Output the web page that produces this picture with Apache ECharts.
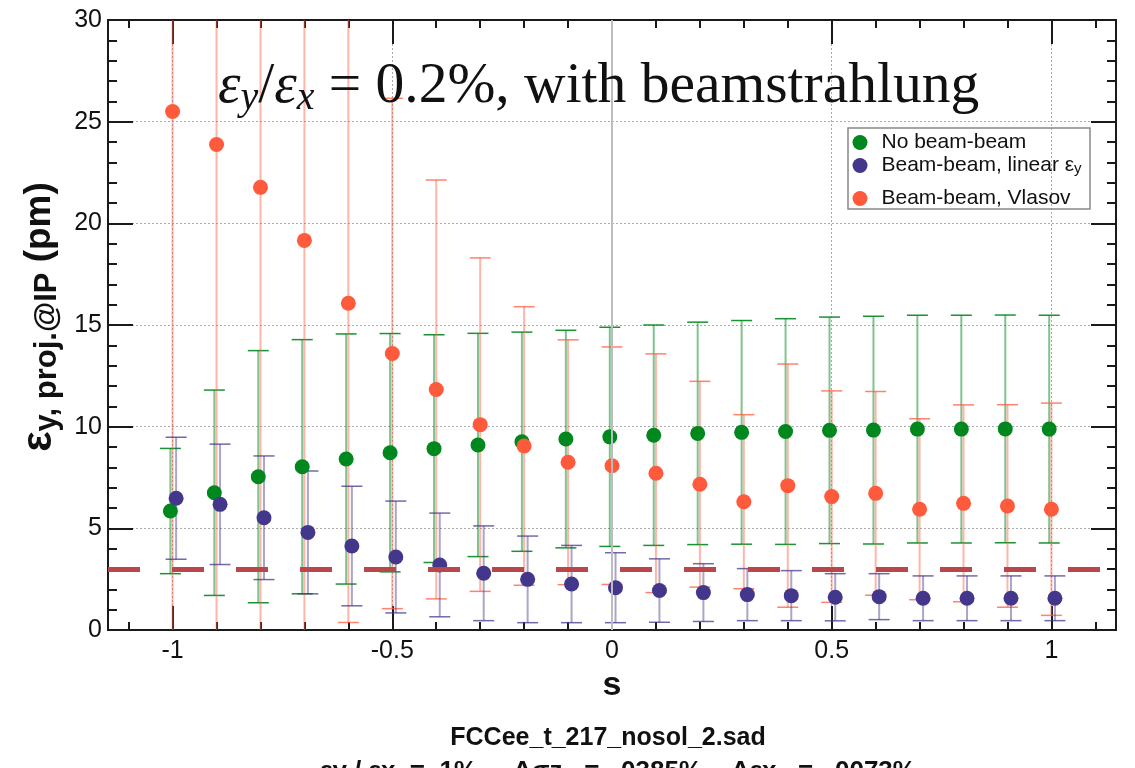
<!DOCTYPE html>
<html>
<head>
<meta charset="utf-8">
<title>emittance vs s</title>
<script src="https://cdn.jsdelivr.net/npm/echarts@6/dist/echarts.min.js"></script>
<style>
html, body { margin: 0; padding: 0; background: #fff; }
#main { width: 1135px; height: 768px; }
</style>
</head>
<body>
<div id="main"></div>
<script>
// s values (x) and the three emittance sets
var sValues = [-1, -0.9, -0.8, -0.7, -0.6, -0.5, -0.4, -0.3, -0.2, -0.1, 0, 0.1, 0.2, 0.3, 0.4, 0.5, 0.6, 0.7, 0.8, 0.9, 1];

var noBB    = [5.85, 6.75, 7.54, 8.03, 8.41, 8.72, 8.92, 9.1, 9.26, 9.39, 9.5, 9.58, 9.67, 9.72, 9.76, 9.82, 9.83, 9.88, 9.88, 9.89, 9.88];
var noBBErr = [3.08, 5.05, 6.2, 6.25, 6.15, 5.86, 5.6, 5.49, 5.39, 5.35, 5.39, 5.42, 5.47, 5.5, 5.55, 5.57, 5.6, 5.6, 5.6, 5.6, 5.6];

var linBB    = [6.48, 6.18, 5.52, 4.8, 4.13, 3.59, 3.2, 2.79, 2.49, 2.26, 2.08, 1.94, 1.84, 1.74, 1.69, 1.61, 1.64, 1.56, 1.56, 1.56, 1.56];
var linBBErr = [3.0, 2.96, 3.04, 3.02, 2.94, 2.75, 2.55, 2.33, 2.13, 1.9, 1.72, 1.56, 1.42, 1.28, 1.23, 1.16, 1.13, 1.1, 1.1, 1.1, 1.1];

var vlasov    = [25.5, 23.88, 21.77, 19.16, 16.07, 13.6, 11.83, 10.1, 9.05, 8.25, 8.08, 7.71, 7.17, 6.31, 7.1, 6.56, 6.72, 5.94, 6.23, 6.1, 5.94];
var vlasovErr = [26.5, 24.5, 22.5, 19.8, 15.7, 12.55, 10.3, 8.2, 6.85, 6.02, 5.84, 5.87, 5.06, 4.28, 5.98, 5.2, 5.01, 4.45, 4.84, 4.98, 5.22];

var refLevel = 3;   // dashed horizontal line

var xMajorTicks = [-1, -0.5, 0, 0.5, 1];
var xMinorTicks = [-1.1, -1, -0.9, -0.8, -0.7, -0.6, -0.5, -0.4, -0.3, -0.2, -0.1, 0, 0.1, 0.2, 0.3, 0.4, 0.5, 0.6, 0.7, 0.8, 0.9, 1, 1.1];

var names = ['No beam-beam', 'Beam-beam, linear εy', 'Beam-beam, Vlasov'];

var xMin = -1.147, xMax = 1.147;
var greenShift = -0.005, blueShift = 0.008;

var cGreen = '#00871e', cBlue = '#43378c', cRed = '#ff5a3c';

function pts(vals, shift) {
    return sValues.map(function (s, i) { return [s + shift, vals[i]]; });
}
function bars(vals, errs, shift) {
    return sValues.map(function (s, i) { return [s + shift, vals[i] - errs[i], vals[i] + errs[i]]; });
}
function errorBar(stem, cap) {
    return function (params, api) {
        var x = api.value(0);
        var lo = api.coord([x, api.value(1)]);
        var hi = api.coord([x, api.value(2)]);
        var hw = 10.5;
        return {
            type: 'group',
            children: [
                { type: 'line', shape: { x1: lo[0], y1: lo[1], x2: hi[0], y2: hi[1] }, style: { stroke: stem, lineWidth: 2 } },
                { type: 'line', shape: { x1: lo[0] - hw, y1: lo[1], x2: lo[0] + hw, y2: lo[1] }, style: { stroke: cap, lineWidth: 1.5 } },
                { type: 'line', shape: { x1: hi[0] - hw, y1: hi[1], x2: hi[0] + hw, y2: hi[1] }, style: { stroke: cap, lineWidth: 1.5 } }
            ]
        };
    };
}

var axisColor = '#1a1a1a';
var font = 'Liberation Sans';

function tickAxis(pos, values, len, labels) {
    return {
        type: 'value', position: pos, min: xMin, max: xMax, gridIndex: 0,
        axisLine: { show: true, onZero: false, lineStyle: { color: axisColor, width: 2 } },
        axisTick: { show: true, inside: true, length: len, customValues: values, lineStyle: { color: axisColor, width: 2 } },
        axisLabel: labels ? { show: true, customValues: values, fontSize: 25, color: '#111', fontFamily: font, margin: 9,
            formatter: function (v) { return String(v); } } : { show: false },
        splitLine: { show: false }
    };
}

var xAxes = [
    tickAxis('bottom', xMajorTicks, 24, true),
    tickAxis('bottom', xMinorTicks, 8, false),
    tickAxis('top', xMajorTicks, 24, false),
    tickAxis('top', xMinorTicks, 8, false)
];
xAxes[0].name = 's';
xAxes[0].nameLocation = 'middle';
xAxes[0].nameGap = 39;
xAxes[0].nameTextStyle = { fontSize: 34, fontWeight: 'bold', color: '#111', fontFamily: font };
xAxes[0].splitLine = { show: true, lineStyle: { color: '#aaa', width: 1, type: [2, 2] } };

function yAxisDef(pos, withLabels) {
    return {
        type: 'value', position: pos, min: 0, max: 30, interval: 5, gridIndex: 0,
        axisLine: { show: true, onZero: false, lineStyle: { color: axisColor, width: 2 } },
        axisTick: { show: true, inside: true, length: 25, lineStyle: { color: axisColor, width: 2 } },
        minorTick: { show: true, splitNumber: 5, length: 9, lineStyle: { color: axisColor, width: 2 } },
        axisLabel: withLabels ? { show: true, fontSize: 25, color: '#111', fontFamily: font, margin: 6 } : { show: false },
        splitLine: { show: withLabels, lineStyle: { color: '#aaa', width: 1, type: [2, 2] } }
    };
}
var yAxes = [yAxisDef('left', true), yAxisDef('right', false)];
yAxes[0].name = '{e|ε}{s|y, proj.@IP}{u| (pm)}';
yAxes[0].nameLocation = 'middle';
yAxes[0].nameRotate = 90;
yAxes[0].nameGap = 45;
yAxes[0].nameTextStyle = {
    fontFamily: font, fontWeight: 'bold', color: '#111', padding: [0, 0, 0, 16],
    rich: {
        e: { fontSize: 43, fontWeight: 'bold', lineHeight: 47, verticalAlign: 'middle', fontFamily: font, color: '#111' },
        s: { fontSize: 31, fontWeight: 'bold', lineHeight: 31, verticalAlign: 'bottom', fontFamily: font, color: '#111' },
        u: { fontSize: 37, fontWeight: 'bold', lineHeight: 47, verticalAlign: 'middle', fontFamily: font, color: '#111' }
    }
};

function legendDef(name, top) {
    return {
        data: [name], orient: 'vertical', left: 852.5, top: top, padding: 0,
        itemWidth: 15, itemHeight: 15, icon: 'circle',
        textStyle: { fontSize: 21, color: '#111', fontFamily: font,
            rich: { a: { fontSize: 21, fontFamily: font, color: '#111', lineHeight: 22, verticalAlign: 'middle', padding: [0, 0, 0, 9] },
                    b: { fontSize: 15, fontFamily: font, color: '#111', lineHeight: 15, verticalAlign: 'bottom' } } },
        formatter: function (n) {
            if (n === names[1]) return '{a|Beam-beam, linear ε}{b|y}';
            return '{a|' + n + '}';
        }
    };
}

var chart = echarts.init(document.getElementById('main'), null, { renderer: 'canvas' });

var option = {
    backgroundColor: '#fff',
    animation: false,
    title: {
        left: 218, top: 56, padding: 0,
        text: '{m|ε}{ms|y}{r|/}{m|ε}{ms|x}{r| = 0.2%, with beamstrahlung}',
        textStyle: {
            fontWeight: 'normal',
            rich: {
                m: { fontFamily: 'Liberation Serif', fontStyle: 'italic', fontWeight: 'normal', fontSize: 57, color: '#111', lineHeight: 62, verticalAlign: 'middle' },
                ms: { fontFamily: 'Liberation Serif', fontStyle: 'italic', fontWeight: 'normal', fontSize: 40, color: '#111', lineHeight: 40, verticalAlign: 'bottom' },
                r: { fontFamily: 'Liberation Serif', fontWeight: 'normal', fontSize: 57.5, color: '#111', lineHeight: 62, verticalAlign: 'middle' }
            }
        }
    },
    legend: [legendDef(names[0], 132), legendDef(names[1], 155), legendDef(names[2], 188)],
    grid: { left: 108, top: 20, width: 1008, height: 610, containLabel: false },
    xAxis: xAxes,
    yAxis: yAxes,
    graphic: [
        { type: 'rect', shape: { x: 848, y: 128, width: 242, height: 81 }, style: { fill: null, stroke: '#888', lineWidth: 1.5 }, z: 10 },
        { type: 'text', x: 608, y: 738, style: { text: 'FCCee_t_217_nosol_2.sad', font: 'bold 25px "Liberation Sans"', fill: '#111', textAlign: 'center', textVerticalAlign: 'middle' } },
        { type: 'text', x: 618, y: 772, style: { text: 'εy / εx  =  1%,    Δσz   =  .0385%,   Δεx   =  .0073%', font: 'bold 26px "Liberation Sans"', fill: '#111', textAlign: 'center', textVerticalAlign: 'middle' } }
    ],
    series: [
        {
            name: 'ref', type: 'line', data: [], silent: true, z: 1,
            markLine: {
                silent: true, symbol: 'none', label: { show: false }, animation: false,
                data: [
                    { yAxis: refLevel, lineStyle: { color: '#b9464b', width: 5, type: [32, 32] } },
                    { xAxis: 0, lineStyle: { color: '#bdbdbd', width: 2, type: 'solid' } }
                ]
            }
        },
        { name: 'errGreen', type: 'custom', clip: true, z: 2, renderItem: errorBar('rgba(0,135,30,0.5)', 'rgba(0,135,30,0.9)'), data: bars(noBB, noBBErr, greenShift) },
        { name: 'errRed', type: 'custom', clip: true, z: 2, renderItem: errorBar('rgba(255,90,60,0.45)', 'rgba(255,90,60,0.75)'), data: bars(vlasov, vlasovErr, 0) },
        { name: 'errBlue', type: 'custom', clip: true, z: 2, renderItem: errorBar('rgba(67,55,140,0.45)', 'rgba(67,55,140,0.75)'), data: bars(linBB, linBBErr, blueShift) },
        { name: names[0], type: 'scatter', symbol: 'circle', symbolSize: 15, z: 3, itemStyle: { color: cGreen, opacity: 1 }, data: pts(noBB, greenShift) },
        { name: names[1], type: 'scatter', symbol: 'circle', symbolSize: 15, z: 3, itemStyle: { color: cBlue, opacity: 1 }, data: pts(linBB, blueShift) },
        { name: names[2], type: 'scatter', symbol: 'circle', symbolSize: 15, z: 3, itemStyle: { color: cRed, opacity: 1 }, data: pts(vlasov, 0) }
    ]
};

chart.setOption(option);
</script>
</body>
</html>
